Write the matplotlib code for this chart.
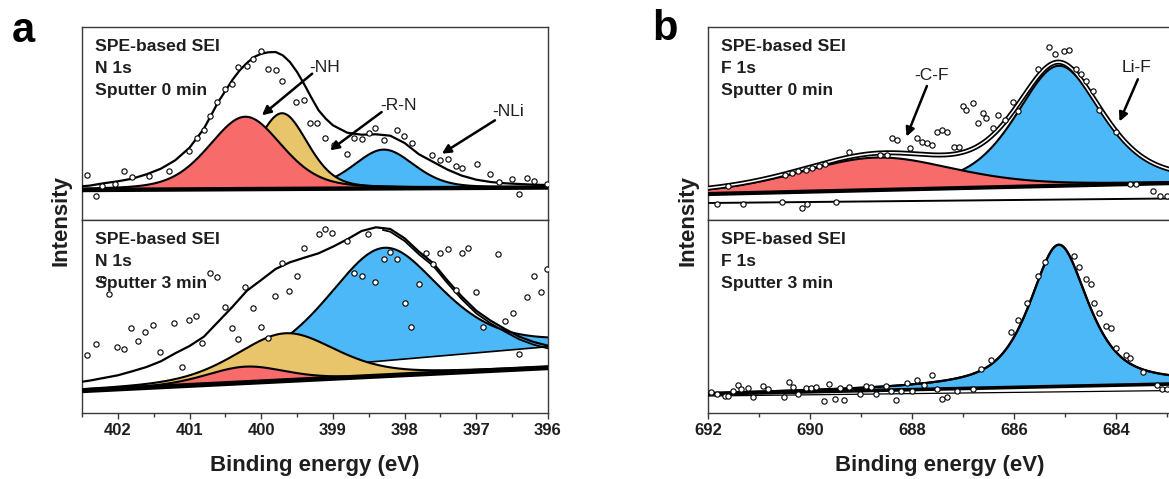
import numpy as np
import matplotlib
matplotlib.use("Agg")
import matplotlib.pyplot as plt
from matplotlib.ticker import MultipleLocator

plt.rcParams['font.family'] = ['Liberation Sans', 'DejaVu Sans']

# ---------------- data ----------------
# Panel a (N 1s) -- Sputter 0 min
a0_pts_x = [402.43, 402.31, 402.22, 402.04, 401.92, 401.80, 401.57, 401.28, 401.01, 400.90,
            400.80, 400.71, 400.62, 400.50, 400.41, 400.32, 400.20, 400.11, 400.00, 399.91,
            399.80, 399.71, 399.52, 399.41, 399.32, 399.22, 399.11, 398.99, 398.80, 398.71,
            398.59, 398.50, 398.41, 398.29, 398.11, 398.01, 397.90, 397.62, 397.50, 397.39,
            397.29, 397.20, 396.99, 396.81, 396.69, 396.50, 396.41, 396.29, 396.20, 396.01]
a0_pts_y = [45.3, 23.7, 33.7, 36.3, 49, 43, 43.7, 49, 69, 82,
            89.7, 103.7, 118, 130.7, 136.3, 153, 154, 160.7, 169, 151.3,
            149.7, 139, 118, 119.7, 97, 97, 82, 74.7, 66.3, 82.3,
            81.3, 87, 92.3, 79.7, 89.7, 83.7, 77, 65.3, 60.3, 61.3,
            53.7, 52.3, 56.3, 45.7, 37.7, 41.3, 26.3, 42.3, 39, 36.3]
a0_env_x = [402.5, 402.4, 402.2, 402.0, 401.8, 401.6, 401.4, 401.2, 401.0, 400.8, 400.6,
            400.4, 400.3, 400.2, 400.1, 400.0, 399.9, 399.8, 399.7, 399.6, 399.5, 399.4,
            399.3, 399.2, 399.1, 399.0, 398.8, 398.6, 398.4, 398.2, 398.0, 397.8, 397.6,
            397.4, 397.2, 397.0, 396.8, 396.6, 396.4, 396.2, 396.0]
a0_env_y = [33.7, 34.3, 36.7, 38.7, 41.3, 45.7, 51.3, 59.7, 72.3, 91.3, 118,
            140.3, 149.7, 157, 163, 166.3, 167.7, 168, 164.7, 158, 148, 135.7,
            122.3, 109.7, 101.3, 94.7, 87.3, 85.3, 85.7, 84.3, 77, 65.7, 58,
            50.3, 44.3, 40.3, 38, 36.7, 36, 35.3, 35]
a0_bkg = [30.0, 32.5]                      # background at 402.5 eV and 396 eV
a0_centers = [398.29, 399.71, 400.22]      # blue (-NLi), yellow (-NH), red
a0_fwhm = [1.0, 0.85, 1.2]
a0_heights = [38.8, 75.7, 72.4]

# Panel a -- Sputter 3 min
a3_pts_x = [402.43, 402.31, 402.21, 402.12, 402.01, 401.92, 401.81, 401.72, 401.62, 401.51,
            401.41, 401.21, 401.11, 401.01, 400.91, 400.82, 400.71, 400.62, 400.50, 400.41,
            400.32, 400.22, 400.12, 400.00, 399.91, 399.81, 399.71, 399.61, 399.50, 399.41,
            399.20, 399.11, 399.01, 398.80, 398.71, 398.60, 398.51, 398.41, 398.29, 398.20,
            398.11, 398.00, 397.91, 397.80, 397.70, 397.61, 397.50, 397.40, 397.29, 397.20,
            397.11, 397.00, 396.90, 396.70, 396.60, 396.49, 396.40, 396.29, 396.20, 396.10, 396.01]
a3_pts_y = [58, 69, 133.7, 119, 66.3, 63.7, 85.3, 72.3, 80.7, 87.7,
            61.3, 90.3, 46.3, 93, 97, 70.3, 140.3, 135.7, 105.7, 84.7,
            74, 125.7, 104.7, 85.7, 74.7, 117, 149.7, 122, 137, 165.3,
            178.7, 183.7, 179.7, 172.3, 139.7, 137, 179, 131.3, 153.7, 161.3,
            154, 110.3, 86.3, 129, 160.3, 148.7, 160.3, 164.3, 123, 160.3,
            164.7, 121.3, 86.3, 159, 92.3, 99.7, 59, 116.3, 137, 120.7, 143.7]
a3_env_x = [402.5, 402.4, 402.2, 402.0, 401.8, 401.6, 401.4, 401.2, 401.0, 400.8, 400.6,
            400.4, 400.2, 400.0, 399.8, 399.6, 399.4, 399.2, 399.0, 398.8, 398.6, 398.4,
            398.2, 398.0, 397.8, 397.6, 397.4, 397.2, 397.0, 396.8, 396.6, 396.4, 396.2, 396.0]
a3_env_y = [31.3, 32.3, 35, 37.7, 41.7, 46, 51.7, 59.7, 67, 76.3, 91.3,
            106.3, 122.3, 133, 144, 150.7, 155.3, 159.7, 166.3, 173.7, 182, 185.7,
            184, 174.7, 161.3, 149.7, 132.3, 116.3, 102.3, 92.3, 84, 76.3, 71, 67.3]
a3_env2_x = [398.3, 398.2, 398.0, 397.8, 397.6, 397.4, 397.2, 397.0, 396.8, 396.6, 396.4, 396.2, 396.0]
a3_env2_y = [183, 181.3, 172, 158.6, 147, 129.6, 113.6, 99.6, 89.6, 81.3, 73.6, 68.3, 64.6]
a3_bkg = [22.3, 45.3]
a3_blue_base = [26.2, 66.3]
a3_blue_range = [399.8, 396.0]
a3_centers = [398.29, 399.66, 400.22]
a3_fwhm = [1.9, 1.67, 1.3]
a3_heights = [113.0, 47.4, 16.0]

# Panel b (F 1s) -- Sputter 0 min
b0_pts_x = [691.82, 691.61, 691.32, 690.56, 690.49, 690.36, 690.23, 690.16, 690.09, 690.06,
            689.96, 689.83, 689.70, 689.50, 689.23, 688.64, 688.50, 688.40, 688.30, 688.04,
            687.91, 687.81, 687.71, 687.61, 687.51, 687.41, 687.31, 687.18, 687.08, 687.01,
            686.95, 686.81, 686.71, 686.61, 686.55, 686.42, 686.32, 686.18, 686.02, 685.92,
            685.52, 685.32, 685.19, 685.02, 684.92, 684.79, 684.69, 684.59, 684.46, 684.33,
            684.00, 683.73, 683.60, 683.27, 683.13, 683.00]
b0_pts_y = [15.9, 34.4, 15.9, 18.2, 44.6, 46.9, 48.6, 12.5, 50.3, 15.9,
            52, 53.7, 55.7, 17.6, 68.2, 65.5, 65.5, 82.3, 80, 71.6,
            82.3, 78.3, 76.6, 74.9, 88.4, 90.1, 88.4, 73.2, 73.2, 113.7,
            110.4, 117.1, 96.9, 107, 101.9, 91.8, 105.3, 100.2, 117.8, 108.7,
            150.8, 172.8, 166, 169.4, 170.1, 150.8, 145.8, 139, 128.9, 110.4,
            88.4, 36.1, 36.1, 29.4, 24.3, 24.3]
b0_bkg = [26.0, 38.0]            # at 692 eV and 682 eV
b0_bkg2 = [17.0, 22.0]
b0_centers = [685.12, 688.70]    # blue (Li-F), red (-C-F)
b0_fwhm = [2.0, 3.6]
b0_heights = [120.0, 32.5]

# Panel b -- Sputter 3 min
b3_pts_x = [691.95, 691.82, 691.68, 691.62, 691.52, 691.42, 691.35, 691.22, 691.12, 690.92,
            690.82, 690.52, 690.42, 690.33, 690.23, 690.09, 689.99, 689.89, 689.73, 689.63,
            689.51, 689.42, 689.33, 689.23, 689.03, 688.91, 688.80, 688.70, 688.52, 688.42,
            688.31, 688.21, 688.11, 688.01, 687.91, 687.77, 687.61, 687.51, 687.41, 687.31,
            687.11, 686.81, 686.65, 686.45, 686.05, 685.92, 685.75, 685.52, 685.39, 684.82,
            684.72, 684.59, 684.49, 684.43, 684.33, 684.20, 684.10, 684.00, 683.80, 683.73,
            683.47, 683.20, 683.10, 683.00]
b3_pts_y = [20.8, 19.1, 17.4, 16.8, 22.5, 27.6, 24.2, 25.2, 15.8, 26.9,
            24.2, 15.8, 30.9, 26.5, 19.1, 24.9, 25.2, 25.9, 11.7, 28.6,
            14.1, 24.9, 13.1, 25.9, 19.1, 26.9, 25.9, 19.1, 26.9, 21.8,
            13.4, 22.5, 29.9, 21.8, 32.6, 27.6, 37.7, 24.2, 14.1, 16.4,
            22.5, 24.2, 44.4, 52.9, 81.5, 93.4, 110.2, 137.2, 150.7, 157.5,
            145.6, 133.8, 128.8, 110.2, 100.1, 86.6, 84.9, 64.7, 57.9, 54.6,
            41.1, 27.6, 24.2, 24.2]
b3_bkg = [19.0, 30.0]
b3_bkg2 = [17.0, 23.0]
b3_center = 685.12
b3_fwhm = 1.36
b3_height = 141.7

# ---------------- style ----------------
RED = '#F86B6B'
YEL = '#E8C46A'
BLUE = '#4DB8F7'
SPINE = '#3a3a3a'
TXT = '#1e1e1e'


def pv(x, c, w, h, eta):
    u = 2.0 * (x - c) / w
    return h * (eta / (1 + u ** 2) + (1 - eta) * np.exp(-np.log(2) * u ** 2))


def line_between(x, x0, x1, v):
    return v[0] + (v[1] - v[0]) * (x - x0) / (x1 - x0)


W, H = 1169, 479
fig = plt.figure(figsize=(W / 100, H / 100), dpi=100)


def make_ax(left_px, right_px, top_px, bottom_px):
    return fig.add_axes([left_px / W, 1 - bottom_px / H,
                         (right_px - left_px) / W, (bottom_px - top_px) / H])


ax_a0 = make_ax(82, 548, 27, 220)
ax_a3 = make_ax(82, 548, 220, 413)
ax_b0 = make_ax(708.3, 1172, 27, 220)
ax_b3 = make_ax(708.3, 1172, 220, 413)

for ax in (ax_a0, ax_a3, ax_b0, ax_b3):
    ax.set_ylim(0, 193)
    ax.set_yticks([])
    for s in ax.spines.values():
        s.set_color(SPINE)
        s.set_linewidth(1.0)
for ax in (ax_a0, ax_a3):
    ax.set_xlim(402.5, 396)
for ax in (ax_b0, ax_b3):
    ax.set_xlim(692, 682.9)
for ax in (ax_a0, ax_b0):
    ax.set_xticks([])
    ax.tick_params(axis='x', which='both', bottom=False, labelbottom=False)

ax_a3.set_xticks([402, 401, 400, 399, 398, 397, 396])
ax_a3.xaxis.set_minor_locator(MultipleLocator(0.5))
ax_b3.set_xticks([692, 690, 688, 686, 684])
ax_b3.xaxis.set_minor_locator(MultipleLocator(1))
for ax in (ax_a3, ax_b3):
    ax.tick_params(axis='x', which='major', direction='out', length=4, width=1.0,
                   colors=SPINE, labelcolor=TXT, labelsize=12, pad=3)
    ax.tick_params(axis='x', which='minor', direction='out', length=3, width=1.0, colors=SPINE)
    for lab in ax.get_xticklabels():
        lab.set_fontweight('bold')


def fill_peak(ax, x, base, peak, color, z):
    ax.fill_between(x, base, base + peak, facecolor=color, edgecolor='none', zorder=z)
    ax.plot(x, base + peak, color='k', lw=1.5, zorder=z + 0.5)


def points(ax, px, py):
    ax.plot(px, py, ls='none', marker='o', ms=3.8, mfc='white', mec='k', mew=0.8, zorder=8)


# ----- a, 0 min -----
xa = np.linspace(402.5, 396, 800)
bk = line_between(xa, 402.5, 396, a0_bkg)
cols = [BLUE, YEL, RED]
for i in range(3):
    fill_peak(ax_a0, xa, bk, pv(xa, a0_centers[i], a0_fwhm[i], a0_heights[i], 0.3), cols[i], 2 + i)
ax_a0.plot(xa, bk, color='k', lw=3.2, zorder=6)
ax_a0.plot(a0_env_x, a0_env_y, color='k', lw=1.6, zorder=7)
points(ax_a0, a0_pts_x, a0_pts_y)

# ----- a, 3 min -----
bk = line_between(xa, 402.5, 396, a3_bkg)
xbl = np.linspace(a3_blue_range[0], a3_blue_range[1], 500)
bb = line_between(xbl, 402.5, 396, a3_blue_base)
fill_peak(ax_a3, xbl, bb, pv(xbl, a3_centers[0], a3_fwhm[0], a3_heights[0], 0.5), BLUE, 2)
ax_a3.plot(xbl, bb, color='k', lw=1.2, zorder=2.6)
fill_peak(ax_a3, xa, bk, pv(xa, a3_centers[1], a3_fwhm[1], a3_heights[1], 0.4), YEL, 3)
fill_peak(ax_a3, xa, bk, pv(xa, a3_centers[2], a3_fwhm[2], a3_heights[2], 0.3), RED, 4)
ax_a3.plot(xa, bk, color='k', lw=3.6, zorder=6)
ax_a3.plot(a3_env_x, a3_env_y, color='k', lw=1.6, zorder=7)
ax_a3.plot(a3_env2_x, a3_env2_y, color='k', lw=1.3, zorder=7)
points(ax_a3, a3_pts_x, a3_pts_y)

# ----- b, 0 min -----
xb = np.linspace(692, 682, 900)
bk = line_between(xb, 692, 682, b0_bkg)
bk2 = line_between(xb, 692, 682, b0_bkg2)
pb = pv(xb, b0_centers[0], b0_fwhm[0], b0_heights[0], 0.5)
pr = pv(xb, b0_centers[1], b0_fwhm[1], b0_heights[1], 0.35)
fill_peak(ax_b0, xb, bk, pb, BLUE, 2)
fill_peak(ax_b0, xb, bk, pr, RED, 3)
ax_b0.plot(xb, bk2, color='k', lw=1.4, zorder=6)
ax_b0.plot(xb, bk, color='k', lw=3.0, zorder=6)
env = bk + pb + pr
ax_b0.plot(xb, env, color='k', lw=3.6, zorder=7)
ax_b0.plot(xb, env, color='white', lw=1.1, zorder=7.2)
points(ax_b0, b0_pts_x, b0_pts_y)

# ----- b, 3 min -----
bk = line_between(xb, 692, 682, b3_bkg)
bk2 = line_between(xb, 692, 682, b3_bkg2)
pb = pv(xb, b3_center, b3_fwhm, b3_height, 0.7)
fill_peak(ax_b3, xb, bk, pb, BLUE, 2)
ax_b3.plot(xb, bk2, color='k', lw=0.9, zorder=6)
ax_b3.plot(xb, bk, color='k', lw=2.6, zorder=6)
ax_b3.plot(xb, bk + pb, color='k', lw=1.6, zorder=7)
points(ax_b3, b3_pts_x, b3_pts_y)

# ----- texts -----
labels = [(ax_a0, "SPE-based SEI\nN 1s\nSputter 0 min"),
          (ax_a3, "SPE-based SEI\nN 1s\nSputter 3 min"),
          (ax_b0, "SPE-based SEI\nF 1s\nSputter 0 min"),
          (ax_b3, "SPE-based SEI\nF 1s\nSputter 3 min")]
for ax, t in labels:
    ax.text(0.027, 0.94, t, transform=ax.transAxes, ha='left', va='top', fontsize=12.6,
            fontweight='bold', color=TXT, linespacing=1.6, zorder=10)

arrow = dict(arrowstyle='-|>', color='k', lw=1.8, mutation_scale=13, shrinkA=0, shrinkB=0)
ann_a = [("-NH", (399.29, 146.3), (399.99, 104.7), (399.12, 153)),
         ("-R-N", (398.32, 108.0), (399.04, 69.7), (398.08, 114.7)),
         ("-NLi", (396.74, 99.7), (397.48, 66.3), (396.55, 108))]
for t, tail, head, pos in ann_a:
    ax_a0.annotate('', xy=head, xytext=tail, arrowprops=arrow, zorder=9)
    ax_a0.text(pos[0], pos[1], t, ha='center', va='center', fontsize=12.5, color=TXT, zorder=10)
ann_b = [("-C-F", (687.71, 134.0), (688.11, 83.4), (687.61, 144.1)),
         ("Li-F", (683.57, 140.7), (683.93, 98.5), (683.60, 152.5))]
for t, tail, head, pos in ann_b:
    ax_b0.annotate('', xy=head, xytext=tail, arrowprops=arrow, zorder=9)
    ax_b0.text(pos[0], pos[1], t, ha='center', va='center', fontsize=12.5, color=TXT, zorder=10)

fig.text(23 / W, 1 - 42 / H, 'a', fontsize=30, fontweight='bold', ha='center', va='baseline')
fig.text(665 / W, 1 - 40 / H, 'b', fontsize=30, fontweight='bold', ha='center', va='baseline')
for xc in (61, 688):
    fig.text(xc / W, 1 - 220 / H, 'Intensity', rotation=90, fontsize=16, fontweight='bold',
             ha='center', va='center', color=TXT)
for xc in (315, 940):
    fig.text(xc / W, 1 - 465 / H, 'Binding energy (eV)', fontsize=16, fontweight='bold',
             ha='center', va='center', color=TXT)

fig.savefig('out.png', dpi=100)
